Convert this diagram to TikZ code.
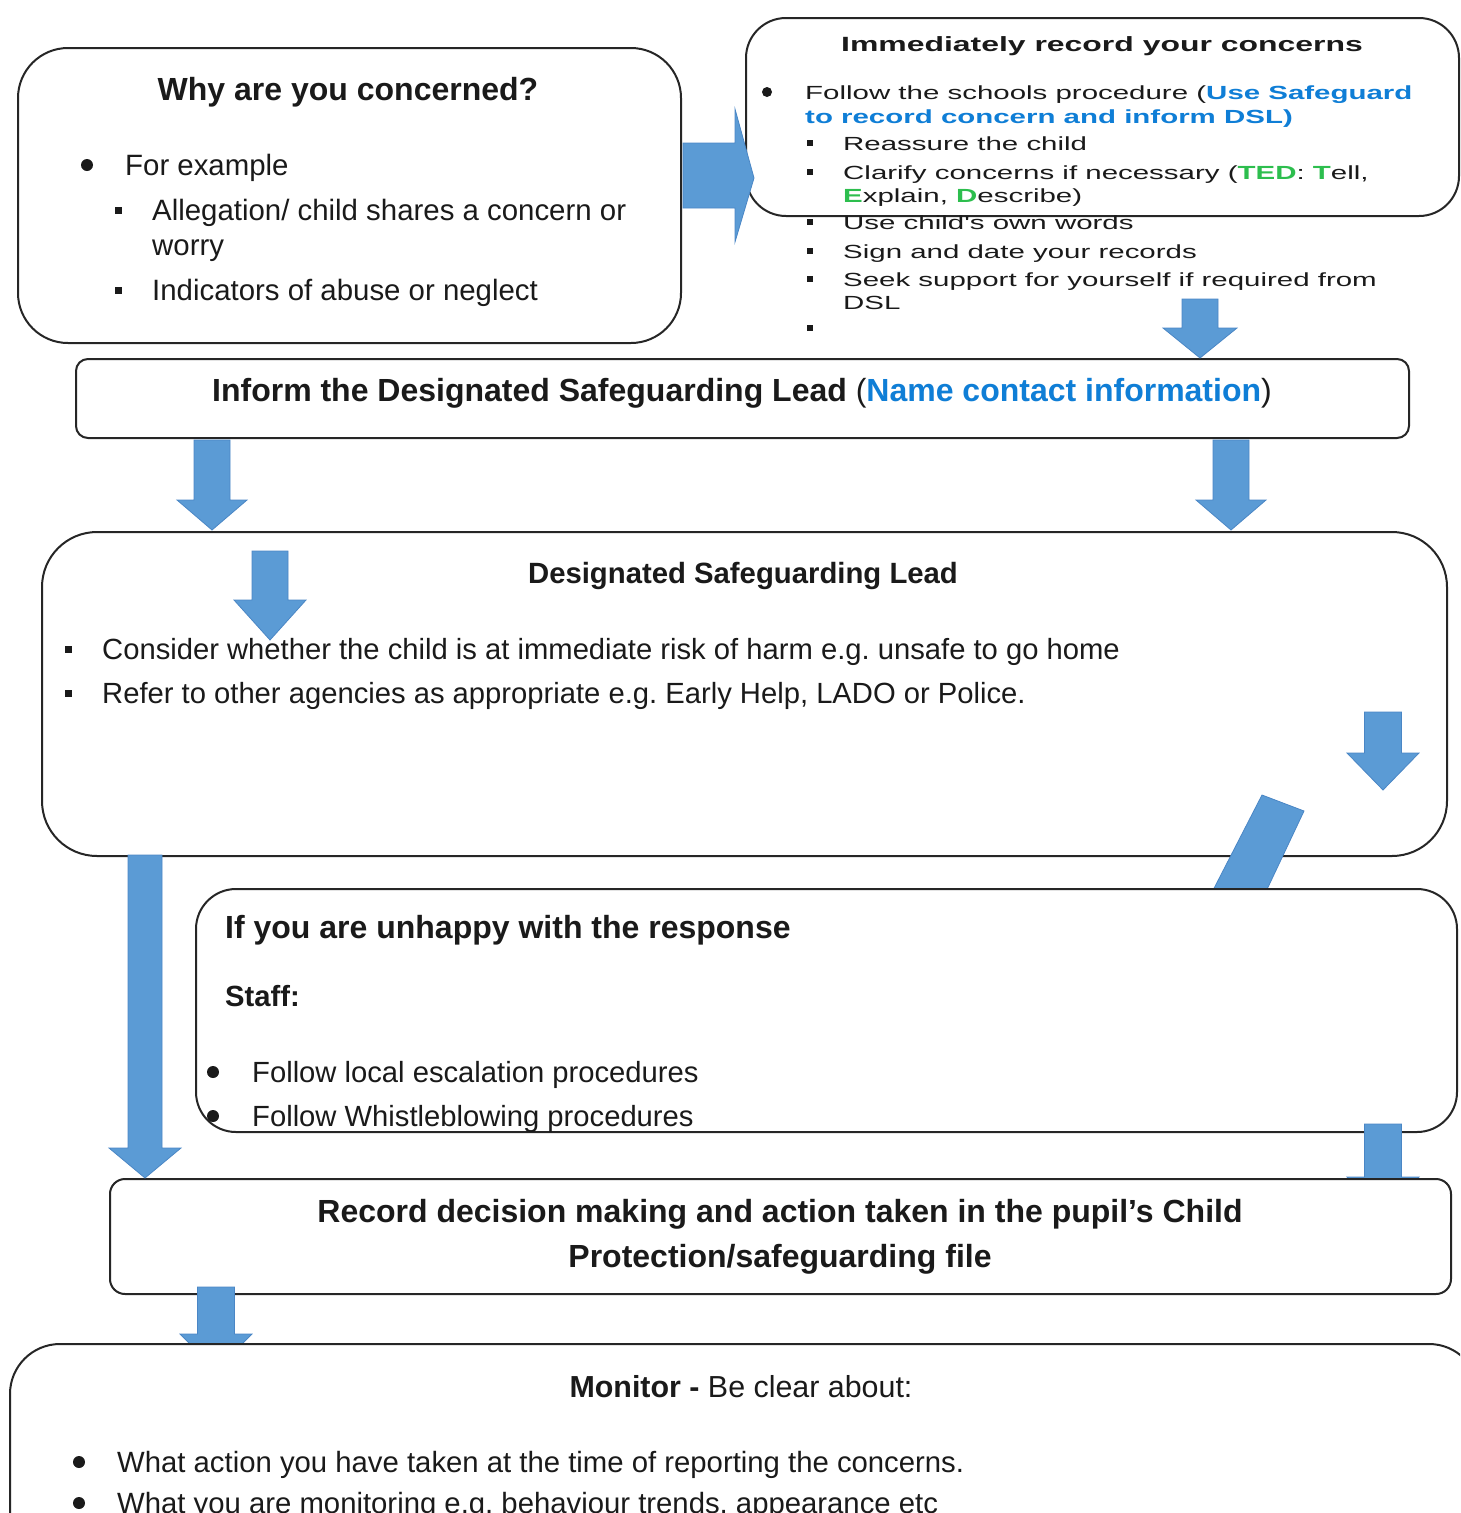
\documentclass[tikz,border=0pt]{standalone}
\usepackage{fontspec}
\setmainfont{Liberation Sans}
\newfontfamily\widefont[FakeStretch=1.55]{Liberation Sans}
\frenchspacing
\definecolor{arrowblue}{HTML}{5B9BD5}
\definecolor{arrowedge}{HTML}{4A86C5}
\definecolor{linkblue}{HTML}{0F7ED6}
\definecolor{tedgreen}{HTML}{2DBE4E}
\definecolor{txt}{HTML}{1A1A1A}
\newcommand\fsz[1]{\fontsize{#1}{#1}\selectfont}
\tikzset{
  box/.style={draw=black!85, line width=2pt, fill=white, anchor=north west, inner sep=0pt},
  blockarrow/.style={fill=arrowblue, draw=arrowedge, line width=0.8pt},
  txtl/.style={anchor=base west, inner sep=0pt, text=txt},
  txtc/.style={anchor=base, inner sep=0pt, text=txt},
}
% centre x, top y, head start y, tip y, half body, half head
\newcommand\downarr[6]{\draw[blockarrow] (#1-#5,#2) -- (#1+#5,#2) -- (#1+#5,#3) -- (#1+#6,#3) -- (#1,#4) -- (#1-#6,#3) -- (#1-#5,#3) -- cycle;}
\newcommand\sqb[3]{\fill[txt] (#1-#3,#2-#3) rectangle (#1+#3,#2+#3);}
\newcommand\dotb[3]{\fill[txt] (#1,#2) circle (#3pt);}
\begin{document}
\frenchspacing
\begin{tikzpicture}[x=1pt,y=-1pt]
\useasboundingbox (0,0) rectangle (1460,1513);
\clip (0,0) rectangle (1460,1513);

% ---------- Box A ----------
\node[box, minimum width=663pt, minimum height=295pt, rounded corners=50pt] (why) at (17,47) {};
\node[txtc, font=\fsz{32}\bfseries] (whyt) at (348,100) {Why are you concerned?};
\dotb{87}{165}{6}
\node[txtl, font=\fsz{29.4}] (why1) at (125,175) {For example};
\sqb{118}{210}{3.5}
\node[txtl, font=\fsz{29.4}] (why2) at (152,220) {Allegation/ child shares a concern or};
\node[txtl, font=\fsz{29.4}] (why3) at (152,255) {worry};
\sqb{118}{290}{3.5}
\node[txtl, font=\fsz{29.4}] (why4) at (152,300) {Indicators of abuse or neglect};

% ---------- Box B ----------
\node[box, minimum width=713pt, minimum height=198pt, rounded corners=40pt] (rec) at (745,17) {};
\node[txtc, font=\widefont\fsz{20.6}\bfseries] (rect) at (1102,51) {Immediately record your concerns};
\dotb{767}{92}{5}
\node[txtl, font=\widefont\fsz{19}] (rec1) at (805,99) {Follow the schools procedure ({\color{linkblue}\bfseries Use Safeguard}};
\node[txtl, font=\widefont\fsz{19}\bfseries, text=linkblue] (rec2) at (805,123) {to record concern and inform DSL)};
\sqb{810}{143}{3}
\node[txtl, font=\widefont\fsz{19}] (rec3) at (843,150) {Reassure the child};
\sqb{810}{172}{3}
\node[txtl, font=\widefont\fsz{19}] (rec4) at (843,179) {Clarify concerns if necessary ({\color{tedgreen}\bfseries TED}: {\color{tedgreen}\bfseries T}ell,};
\node[txtl, font=\widefont\fsz{19}] (rec5) at (843,202) {{\color{tedgreen}\bfseries E}xplain, {\color{tedgreen}\bfseries D}escribe)};
\sqb{810}{222}{3}
\node[txtl, font=\widefont\fsz{19}] (rec6) at (843,229) {Use child's own words};
\sqb{810}{251}{3}
\node[txtl, font=\widefont\fsz{19}] (rec7) at (843,258) {Sign and date your records};
\sqb{810}{279}{3}
\node[txtl, font=\widefont\fsz{19}] (rec8) at (843,286) {Seek support for yourself if required from};
\node[txtl, font=\widefont\fsz{19}] (rec9) at (843,309) {DSL};
\sqb{810}{328}{3}

% arrow A -> B
\draw[blockarrow] (683,143) -- (735,143) -- (735,109) -- (754,178) -- (735,242) -- (735,208) -- (683,208) -- cycle;

% ---------- Inform box ----------
\node[box, minimum width=1333pt, minimum height=79pt, rounded corners=12pt] (inform) at (75,358) {};
\node[txtc, font=\fsz{32}] (informt) at (742,401) {\bfseries Inform the Designated Safeguarding Lead \mdseries(\bfseries{\color{linkblue}Name contact information}\mdseries)};
\downarr{1200}{299}{328}{358}{18}{37}

% ---------- DSL box ----------
\node[box, minimum width=1405pt, minimum height=324pt, rounded corners=55pt] (dsl) at (41,531) {};
\node[txtc, font=\fsz{29.3}\bfseries] (dslt) at (743,583) {Designated Safeguarding Lead};
\downarr{212}{440}{500}{530}{18}{35}
\downarr{1231}{440}{500}{530}{18}{35}
\downarr{270}{551}{600}{640}{18}{36}
\sqb{68}{649}{3.5}
\node[txtl, font=\fsz{29.2}] (dsl1) at (102,659) {Consider whether the child is at immediate risk of harm e.g. unsafe to go home};
\sqb{68}{693}{3.5}
\node[txtl, font=\fsz{29.2}] (dsl2) at (102,703) {Refer to other agencies as appropriate e.g. Early Help, LADO or Police.};
\downarr{1383}{712}{753}{790}{18.5}{36}

% slanted bar (behind unhappy box)
\draw[blockarrow] (1262,795) -- (1304,811) -- (1262,900) -- (1208,900) -- cycle;

% ---------- Unhappy box ----------
\node[box, minimum width=1261pt, minimum height=243pt, rounded corners=40pt] (unhappy) at (195,888) {};
\node[txtl, font=\fsz{32}\bfseries] (unt) at (225,938) {If you are unhappy with the response};
\node[txtl, font=\fsz{29.2}\bfseries] (uns) at (225,1006) {Staff:};
\dotb{213}{1072}{6}
\node[txtl, font=\fsz{29.2}] (un1) at (252,1082) {Follow local escalation procedures};
\dotb{213}{1116}{6}
\node[txtl, font=\fsz{29.2}] (un2) at (252,1126) {Follow Whistleblowing procedures};

% arrow under record box (right)
\downarr{1383}{1124}{1177}{1212}{18.5}{36}

% ---------- Record box ----------
\node[box, minimum width=1341pt, minimum height=115pt, rounded corners=15pt] (record) at (109,1178) {};
\node[txtc, font=\fsz{32}\bfseries] (recA) at (780,1222) {Record decision making and action taken in the pupil's Child};
\node[txtc, font=\fsz{32}\bfseries] (recB) at (780,1267) {Protection/safeguarding file};

% long left arrow
\downarr{145}{855}{1148}{1178}{17}{36}

% record -> monitor
\downarr{216}{1287}{1334}{1370}{18.5}{36}

% ---------- Monitor box ----------
\node[box, minimum width=1469pt, minimum height=300pt, rounded corners=50pt] (monitor) at (9,1343) {};
\node[txtc, font=\fsz{30.4}] (mont) at (741,1397) {\bfseries Monitor - \mdseries Be clear about:};
\dotb{79}{1462}{6}
\node[txtl, font=\fsz{29.3}] (mon1) at (117,1472) {What action you have taken at the time of reporting the concerns.};
\dotb{79}{1503}{6}
\node[txtl, font=\fsz{29.3}] (mon2) at (117,1513) {What you are monitoring e.g. behaviour trends, appearance etc};
\end{tikzpicture}
\end{document}
